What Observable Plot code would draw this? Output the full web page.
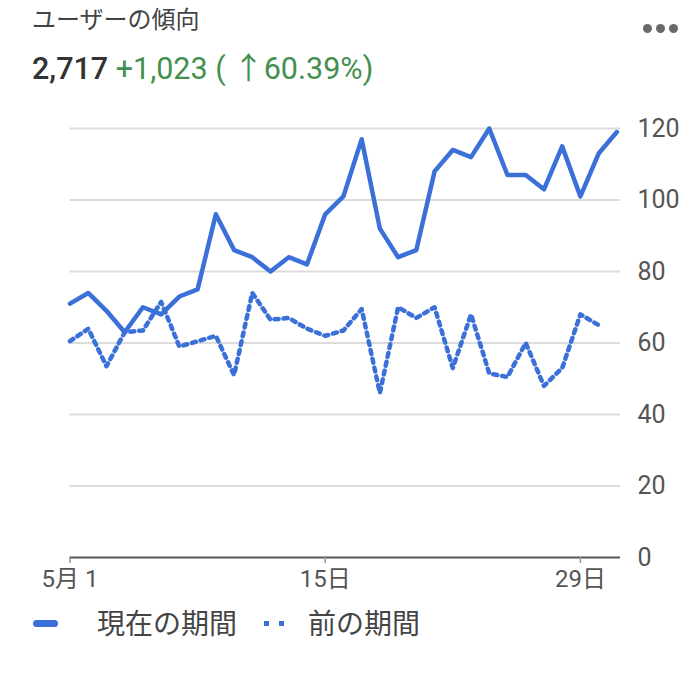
<!DOCTYPE html>
<html>
<head>
<meta charset="utf-8">
<script src="https://cdn.jsdelivr.net/npm/d3@7"></script>
<script src="https://cdn.jsdelivr.net/npm/@observablehq/plot@0.6"></script>
<style>
  body { margin: 0; background: #fff; font-family: Roboto, "Noto Sans CJK JP", sans-serif; }
  #wrap { position: relative; width: 700px; height: 687px; overflow: hidden; }
  .abs { position: absolute; white-space: nowrap; }
  #title { left: 32px; top: 0px; font-size: 24px; color: #444; }
  #dots { left: 643px; top: 24px; width: 36px; height: 9px; }
  #dots span { position: absolute; top: 0; width: 9px; height: 9px; border-radius: 50%; background: #6a6a6a; }
  #nums { left: 32px; top: 44px; font-size: 30.5px; }
  #nums .main { color: #333; font-weight: 500; }
  #nums .chg { color: #43904f; }
  #chart { left: 0; top: 100px; }
  #legend { left: 0; top: 600px; width: 700px; height: 46px; }
  .lg-bar { position: absolute; left: 33px; top: 20px; width: 25px; height: 7px; border-radius: 4px; }
  .lg-sq { position: absolute; top: 21px; width: 5px; height: 5px; }
  .lg-txt { position: absolute; top: 2px; font-size: 28px; color: #444; }
</style>
</head>
<body>
<div id="wrap">
  <div id="title" class="abs">ユーザーの傾向</div>
  <div id="dots" class="abs"><span style="left:0"></span><span style="left:13px"></span><span style="left:26px"></span></div>
  <div id="nums" class="abs"><span class="main">2,717</span> <span class="chg">+1,023 ( ↑60.39%)</span></div>
  <div id="chart" class="abs"></div>
  <div id="legend" class="abs"></div>
</div>
<script>
const days = [1,2,3,4,5,6,7,8,9,10,11,12,13,14,15,16,17,18,19,20,21,22,23,24,25,26,27,28,29,30,31];
const currentValues = [71,74,69,63,70,68,73,75,96,86,84,80,84,82,96,101,117,92,84,86,108,114,112,120,107,107,103,115,101,113,119];
const previousValues = [60.5,64,53.5,63,63.5,71.5,59,60.5,62,51,74,66.5,67,64,62,63.5,69.5,46,70,67,70,53,68,51.5,50.5,60,48,53,68,65];
const xTicks = [1, 15, 29];
const xTickLabels = ["5月 1", "15日", "29日"];
const yTicks = [0, 20, 40, 60, 80, 100, 120];
const seriesNames = ["現在の期間", "前の期間"];

const blue = "#3a70d8";
const current = days.map((d, i) => ({day: d, value: currentValues[i]}));
const previous = previousValues.map((v, i) => ({day: days[i], value: v}));

const chart = Plot.plot({
  width: 700,
  height: 497,
  marginLeft: 69.5,
  marginRight: 80,
  marginTop: 28,
  marginBottom: 40,
  style: {fontFamily: 'Roboto, "Noto Sans CJK JP", sans-serif', background: "transparent"},
  x: {domain: [1, 31.2], axis: null},
  y: {domain: [0, 120], axis: null},
  marks: [
    Plot.ruleY(yTicks.filter(d => d > 0), {stroke: "#dcdcdc", strokeWidth: 2}),
    Plot.ruleY([0], {stroke: "#555", strokeWidth: 2}),
    Plot.axisX({ticks: xTicks, tickFormat: (d) => xTickLabels[xTicks.indexOf(d)], label: null, tickSize: 6, tickPadding: 6, fontSize: 24, color: "#555", stroke: "#999", strokeWidth: 1.5}),
    Plot.axisY({ticks: yTicks, anchor: "right", label: null, tickSize: 0, tickPadding: 9, dx: 8, fontSize: 25, color: "#555", textAnchor: "start"}),
    Plot.line(previous, {x: "day", y: "value", stroke: blue, strokeWidth: 4.5, strokeDasharray: "4,5", strokeLinejoin: "round"}),
    Plot.line(current, {x: "day", y: "value", stroke: blue, strokeWidth: 4.5, strokeLinejoin: "round", strokeLinecap: "round"})
  ]
});
document.getElementById("chart").appendChild(chart);

const lg = document.getElementById("legend");
lg.innerHTML = `
  <div class="lg-bar" style="background:${blue}"></div>
  <div class="lg-txt" style="left:97px">${seriesNames[0]}</div>
  <div class="lg-sq" style="left:264px;background:${blue}"></div>
  <div class="lg-sq" style="left:279px;background:${blue}"></div>
  <div class="lg-txt" style="left:308px">${seriesNames[1]}</div>`;
</script>
</body>
</html>
